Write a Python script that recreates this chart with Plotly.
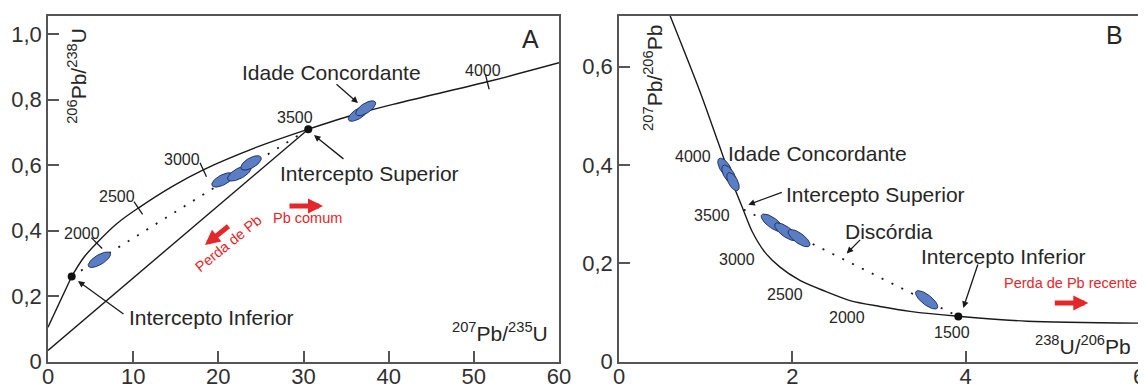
import numpy as np
import plotly.graph_objects as go

# ---------------- data ----------------
# Panel A : Wetherill concordia  (207Pb/235U , 206Pb/238U)
concA0_x = [0.0, 2.78]            # lower straight part up to the lower intercept
concA0_y = [0.105, 0.260]
concA_x = [2.78, 4.2, 5.72, 8.07, 10.60, 14.71, 18.23, 24.50, 30.56, 36.0, 41.3, 51.58, 60.0]
concA_y = [0.260, 0.318, 0.362, 0.421, 0.469, 0.537, 0.586, 0.655, 0.710, 0.755, 0.791, 0.855, 0.913]
lineA_x = [0.0, 30.56]            # straight line origin -> upper intercept
lineA_y = [0.034, 0.710]
discA_x = [2.78, 30.56]           # discordia (dotted)
discA_y = [0.260, 0.710]
interA_x = [2.78, 30.56]          # intercepts (dots)
interA_y = [0.260, 0.710]
ageTickA_x = [5.72, 10.60, 18.23, 51.58]
ageTickA_y = [0.362, 0.469, 0.586, 0.855]
ageTickA_ang = [-45, -34, -25, -14]
ageLblA = ["2000", "2500", "3000", "3500", "4000"]
ageLblA_x = [3.96, 8.07, 15.70, 29.0, 51.1]
ageLblA_y = [0.392, 0.504, 0.616, 0.746, 0.889]
ellA_x = [6.03, 20.51, 22.46, 23.84, 36.43, 37.30]
ellA_y = [0.311, 0.555, 0.575, 0.607, 0.757, 0.774]

# Panel B : Tera-Wasserburg concordia (238U/206Pb , 207Pb/206Pb)
concB_x = [0.575, 0.935, 1.142, 1.315, 1.431, 1.535, 1.685, 1.858, 2.088, 2.377, 2.665, 3.011, 3.358, 3.911, 4.708, 6.0]
concB_y = [0.710, 0.549, 0.447, 0.361, 0.310, 0.265, 0.222, 0.192, 0.165, 0.143, 0.124, 0.112, 0.102, 0.092, 0.082, 0.078]
discB_x = [1.44, 3.915]
discB_y = [0.309, 0.0915]
interB_x = [3.915]
interB_y = [0.0915]
ageLblB = ["4000", "3500", "3000", "2500", "2000", "1500"]
ageLblB_x = [0.854, 1.073, 1.361, 1.915, 2.631, 3.842]
ageLblB_y = [0.418, 0.298, 0.207, 0.136, 0.089, 0.060]
ellB_x = [1.223, 1.269, 1.315, 1.771, 1.927, 2.077, 3.550]
ellB_y = [0.394, 0.380, 0.366, 0.282, 0.264, 0.251, 0.1255]

# ---------------- layout geometry ----------------
# the page body has an 8px margin, so the figure is drawn 8px smaller and
# every pixel position is shifted by that offset
OFF = 8
W, H = 1146 - OFF, 388 - OFF
A_px = (48 - OFF, 559 - OFF)
B_px = (619 - OFF, 1139 - OFF)
Y_px = (16 - OFF, 361.5 - OFF)
A_xr = [0, 60]
A_yr = [0, 1.056]
B_xr = [0, 6]
B_yr = [0, 0.703]

sxA = (A_px[1] - A_px[0]) / (A_xr[1] - A_xr[0])
syA = (Y_px[1] - Y_px[0]) / (A_yr[1] - A_yr[0])
sxB = (B_px[1] - B_px[0]) / (B_xr[1] - B_xr[0])
syB = (Y_px[1] - Y_px[0]) / (B_yr[1] - B_yr[0])

FONT = "Liberation Sans, Arial, sans-serif"
TXT = "#262626"
RED = "#e5262b"
ELL_FILL = "#5b7dc1"
ELL_LINE = "#1d336f"

# ellipse sizes (px): half length, half width, angle (deg, counter-clockwise)
ellA_style = [(12.7, 4.8, 31), (12, 5, 28), (13, 5.2, 28), (11.5, 5, 30), (11.5, 4.8, 33), (11.5, 4.8, 33)]
ellB_style = [(11, 5, -58), (11, 5, -58), (10, 4.6, -62), (13.5, 5, -36), (13.5, 5, -36), (13, 5, -36), (13.5, 5, -38)]


def ellipse(cx, cy, a, b, ang, sx, sy, n=60):
    t = np.linspace(0, 2 * np.pi, n)
    th = np.deg2rad(ang)
    ux, uy = a * np.cos(t), b * np.sin(t)
    px = ux * np.cos(th) - uy * np.sin(th)
    py = ux * np.sin(th) + uy * np.cos(th)
    return cx + px / sx, cy + py / sy


fig = go.Figure()
LINE = dict(color="#1a1a1a", width=1.4)

# ---- panel A lines
fig.add_trace(go.Scatter(x=concA0_x, y=concA0_y, mode="lines", line=LINE, xaxis="x", yaxis="y", hoverinfo="skip"))
fig.add_trace(go.Scatter(x=concA_x, y=concA_y, mode="lines", line=dict(LINE, shape="spline", smoothing=1.0),
                         xaxis="x", yaxis="y", hoverinfo="skip"))
fig.add_trace(go.Scatter(x=lineA_x, y=lineA_y, mode="lines", line=LINE, xaxis="x", yaxis="y", hoverinfo="skip"))
fig.add_trace(go.Scatter(x=discA_x, y=discA_y, mode="lines", line=dict(color="#1a1a1a", width=1.8, dash="2px,9px"),
                         xaxis="x", yaxis="y", hoverinfo="skip"))
fig.add_trace(go.Scatter(x=ageTickA_x, y=ageTickA_y, mode="markers",
                         marker=dict(symbol="line-ns", size=11, angle=ageTickA_ang, line=dict(color="#1a1a1a", width=1.3)),
                         xaxis="x", yaxis="y", hoverinfo="skip"))
for (cx, cy, st) in zip(ellA_x, ellA_y, ellA_style):
    ex, ey = ellipse(cx, cy, st[0], st[1], st[2], sxA, syA)
    fig.add_trace(go.Scatter(x=ex, y=ey, mode="lines", fill="toself", fillcolor=ELL_FILL,
                             line=dict(color=ELL_LINE, width=1), xaxis="x", yaxis="y", hoverinfo="skip"))
fig.add_trace(go.Scatter(x=interA_x, y=interA_y, mode="markers", marker=dict(color="#111", size=8),
                         xaxis="x", yaxis="y", hoverinfo="skip"))

# ---- panel B lines
fig.add_trace(go.Scatter(x=concB_x, y=concB_y, mode="lines", line=dict(LINE, shape="spline", smoothing=0.8),
                         xaxis="x2", yaxis="y2", hoverinfo="skip"))
fig.add_trace(go.Scatter(x=discB_x, y=discB_y, mode="lines", line=dict(color="#1a1a1a", width=1.8, dash="2px,9px"),
                         xaxis="x2", yaxis="y2", hoverinfo="skip"))
for (cx, cy, st) in zip(ellB_x, ellB_y, ellB_style):
    ex, ey = ellipse(cx, cy, st[0], st[1], st[2], sxB, syB)
    fig.add_trace(go.Scatter(x=ex, y=ey, mode="lines", fill="toself", fillcolor=ELL_FILL,
                             line=dict(color=ELL_LINE, width=1), xaxis="x2", yaxis="y2", hoverinfo="skip"))
fig.add_trace(go.Scatter(x=interB_x, y=interB_y, mode="markers", marker=dict(color="#111", size=8),
                         xaxis="x2", yaxis="y2", hoverinfo="skip"))

ann = []


def text(x, y, s, size, xr, yr, color=TXT, angle=0, xanchor="center"):
    ann.append(dict(x=x, y=y, text=s, showarrow=False, xref=xr, yref=yr, textangle=angle, xanchor=xanchor,
                    yanchor="middle", font=dict(family=FONT, size=size, color=color)))


def arrow(x, y, ax, ay, xr, yr, color="#1a1a1a", width=1.3, size=1.0, head=2):
    ann.append(dict(x=x, y=y, ax=ax, ay=ay, axref="pixel", ayref="pixel", text="", showarrow=True,
                    xref=xr, yref=yr, arrowhead=head, arrowsize=size, arrowwidth=width, arrowcolor=color, standoff=0))


# ---- panel A annotations
for s, x, y in zip(ageLblA, ageLblA_x, ageLblA_y):
    text(x, y, s, 16, "x", "y")
text(33.28, 0.882, "Idade Concordante", 21, "x", "y")
text(37.8, 0.576, "Intercepto Superior", 21, "x", "y")
text(19.22, 0.133, "Intercepto Inferior", 21, "x", "y")
text(21.25, 0.362, "Perda de Pb", 14.5, "x", "y", color=RED, angle=-39)
text(30.5, 0.439, "Pb comum", 14.5, "x", "y", color=RED)
text(56.6, 0.986, "A", 25, "x", "y")
text(58.94, 0.090, "<sup>207</sup>Pb/<sup>235</sup>U", 21, "x", "y", xanchor="right")
text(3.4, 0.873, "<sup>206</sup>Pb/<sup>238</sup>U", 21, "x", "y", angle=-90)
arrow(36.4, 0.790, -23, -20, "x", "y")
arrow(31.23, 0.692, 31, 25, "x", "y")
arrow(3.52, 0.246, 47, 34, "x", "y")
arrow(18.43, 0.356, 25, -20, "x", "y", color=RED, width=5, size=0.6)
arrow(32.29, 0.475, -35, 0, "x", "y", color=RED, width=5, size=0.6)

# ---- panel B annotations
for s, x, y in zip(ageLblB, ageLblB_x, ageLblB_y):
    text(x, y, s, 16, "x2", "y2")
text(2.296, 0.424, "Idade Concordante", 21, "x2", "y2")
text(2.965, 0.339, "Intercepto Superior", 21, "x2", "y2")
text(3.115, 0.264, "Discórdia", 21, "x2", "y2")
text(4.442, 0.213, "Intercepto Inferior", 21, "x2", "y2")
text(5.215, 0.160, "Perda de Pb recente", 14.5, "x2", "y2", color=RED)
text(5.723, 0.664, "B", 25, "x2", "y2")
text(5.931, 0.034, "<sup>238</sup>U/<sup>206</sup>Pb", 21, "x2", "y2", xanchor="right")
text(0.392, 0.577, "<sup>207</sup>Pb/<sup>206</sup>Pb", 21, "x2", "y2", angle=-90)
arrow(1.492, 0.319, 35, -13, "x2", "y2")
arrow(2.627, 0.220, 15, -15, "x2", "y2")
arrow(3.973, 0.109, 15, -45, "x2", "y2")
arrow(5.415, 0.119, -35, 0, "x2", "y2", color=RED, width=5, size=0.6)

axis_common = dict(showgrid=False, zeroline=False, showline=True, mirror=True, linecolor="#555", linewidth=1.6,
                   ticks="inside", ticklen=11, tickwidth=1.5, tickcolor="#555", automargin=False,
                   tickfont=dict(family=FONT, size=22, color="#303030"), fixedrange=True)
xaxis_extra = dict(ticklabelstandoff=-6)

fig.update_layout(
    width=W, height=H, margin=dict(l=0, r=0, t=0, b=0, autoexpand=False),
    paper_bgcolor="white", plot_bgcolor="white", showlegend=False,
    xaxis=dict(domain=[A_px[0] / W, A_px[1] / W], range=A_xr, anchor="y",
               tickvals=[0, 10, 20, 30, 40, 50, 60], ticktext=["0", "10", "20", "30", "40", "50", "60"],
               **axis_common, **xaxis_extra),
    yaxis=dict(domain=[1 - Y_px[1] / H, 1 - Y_px[0] / H], range=A_yr, anchor="x",
               tickvals=[0, 0.2, 0.4, 0.6, 0.8, 1.0], ticktext=["0", "0,2", "0,4", "0,6", "0,8", "1,0"], **axis_common),
    xaxis2=dict(domain=[B_px[0] / W, B_px[1] / W], range=B_xr, anchor="y2",
                tickvals=[0, 2, 4, 6], ticktext=["0", "2", "4", "6"], **axis_common, **xaxis_extra),
    yaxis2=dict(domain=[1 - Y_px[1] / H, 1 - Y_px[0] / H], range=B_yr, anchor="x2",
                tickvals=[0, 0.2, 0.4, 0.6], ticktext=["0", "0,2", "0,4", "0,6"], **axis_common),
    annotations=ann,
)

fig.write_html("out.html")
